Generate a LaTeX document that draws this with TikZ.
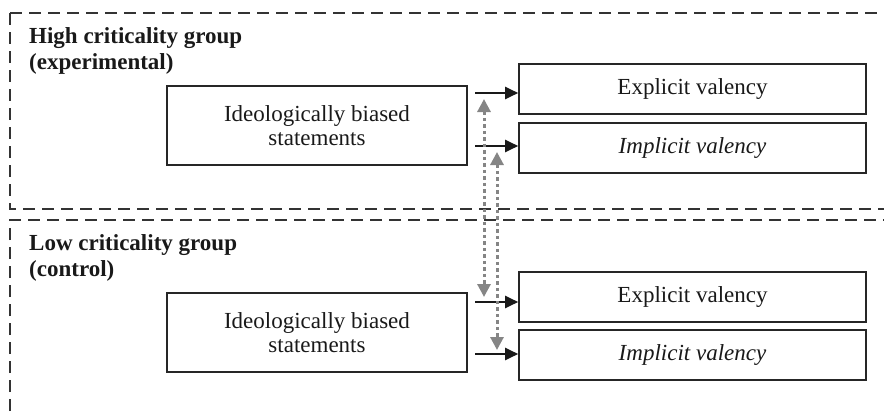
\documentclass[tikz,border=0pt]{standalone}
\usepackage{fontspec}
\setmainfont{Liberation Serif}
\usetikzlibrary{arrows.meta}
\begin{document}
\begin{tikzpicture}[x=1pt,y=-1pt,
  box/.style={draw=black!85, line width=1.6pt, minimum width=300pt, minimum height=79pt,
    align=center, inner sep=0pt, text=black!90, font=\fontsize{23}{24.5}\selectfont},
  vbox/.style={box, minimum width=347pt, minimum height=50pt},
  grouptitle/.style={anchor=north west, align=left, inner sep=0pt, text=black!90,
    font=\fontsize{23}{26}\selectfont\bfseries},
  groupframe/.style={draw=black!80, line width=1.6pt, dash pattern=on 12pt off 7pt},
  arr/.style={draw=black!90, line width=2pt, -{Triangle[length=13pt,width=12pt]}},
  link/.style={draw=black!48, line width=3pt, dash pattern=on 3.5pt off 3pt,
    {Triangle[length=13pt,width=13pt]}-{Triangle[length=13pt,width=13pt]}}]
\useasboundingbox (0,0) rectangle (884,415);
\clip (0,0) rectangle (884,415);
% group frames
\draw[groupframe] (10,13) -- (10,209) -- (900,209);
\draw[groupframe] (10,13) -- (900,13);
\draw[groupframe] (10,430) -- (10,220) -- (900,220);
% titles
\node[grouptitle] (g1) at (29,27) {High criticality group\\(experimental)};
\node[grouptitle] (g2) at (29,234) {Low criticality group\\(control)};
% boxes
\node[box] (tl) at (317,125.5) {Ideologically biased\\statements};
\node[vbox] (te) at (692.5,89) {Explicit valency};
\node[vbox] (ti) at (692.5,148) {\itshape Implicit valency};
\node[box] (bl) at (317,332.5) {Ideologically biased\\statements};
\node[vbox] (be) at (692.5,297) {Explicit valency};
\node[vbox] (bi) at (692.5,355) {\itshape Implicit valency};
% arrows
\coordinate (a1) at (475,93);
\coordinate (a2) at (475,146);
\coordinate (a3) at (475,302);
\coordinate (a4) at (475,354);
\draw[arr] (a1) -- (a1 -| te.west);
\draw[arr] (a2) -- (a2 -| ti.west);
\draw[arr] (a3) -- (a3 -| be.west);
\draw[arr] (a4) -- (a4 -| bi.west);
% dotted links
\coordinate (d1t) at (484,99);
\coordinate (d1b) at (484,297);
\coordinate (d2t) at (497,152);
\coordinate (d2b) at (497,350);
\draw[link] (d1t) -- (d1b);
\draw[link] (d2t) -- (d2b);
\end{tikzpicture}
\end{document}
